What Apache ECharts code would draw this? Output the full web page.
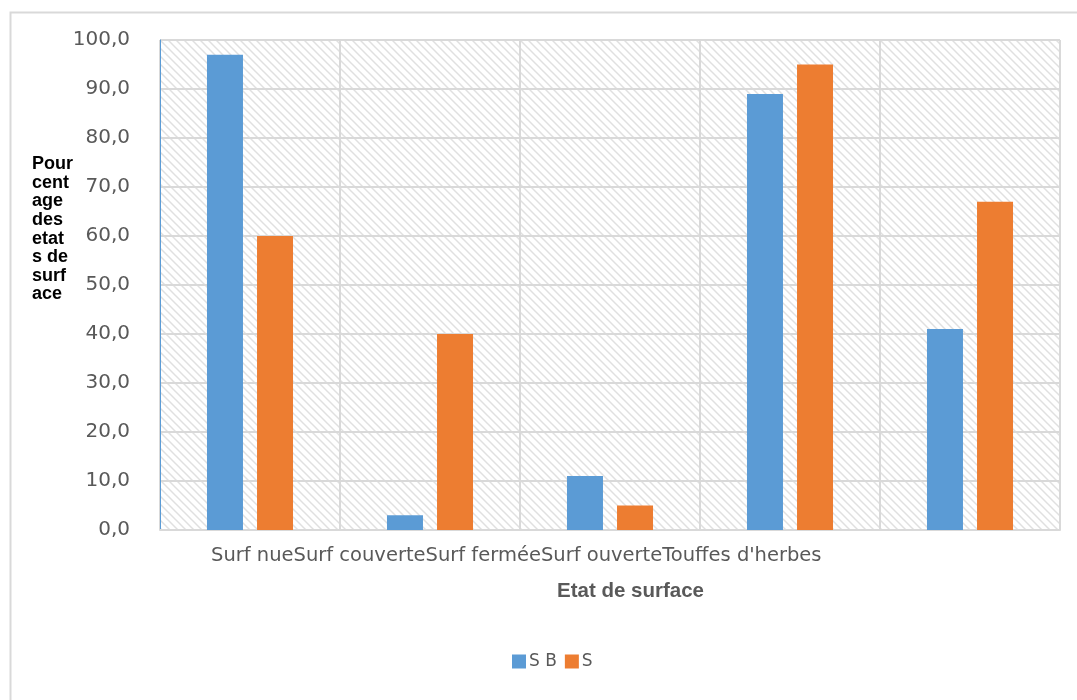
<!DOCTYPE html>
<html><head><meta charset="utf-8">
<script src="https://cdn.jsdelivr.net/npm/echarts@6/dist/echarts.min.js"></script>
<style>html,body{margin:0;padding:0;background:#fff;}#c{width:1077px;height:700px;}</style>
</head><body><div id="c"></div>
<script>
const categories = ['Surf nue', 'Surf couverte', 'Surf fermée', 'Surf ouverte', "Touffes d'herbes"];
const seriesNames = ['S B', 'S'];
const valuesSB = [97, 3, 11, 89, 41];
const valuesS = [60, 40, 5, 95, 67];
const yAxisName = 'Pour\ncent\nage\ndes\netat\ns de\nsurf\nace';
const xAxisName = 'Etat de surface';

// hatch pattern
const pc = document.createElement('canvas');
pc.width = 8; pc.height = 8;
const g = pc.getContext('2d');
g.fillStyle = '#ffffff'; g.fillRect(0,0,8,8);
g.strokeStyle = '#e0e0e0'; g.lineWidth = 1.5;
g.beginPath();
g.moveTo(-2,-2); g.lineTo(10,10);
g.moveTo(-10,-2); g.lineTo(2,10);
g.moveTo(6,-2); g.lineTo(18,10);
g.stroke();

const chart = echarts.init(document.getElementById('c'));
chart.setOption({
  animation: false,
  backgroundColor: '#fff',
  grid: { left: 160, right: 17, top: 40, bottom: 170, show: true, borderWidth: 0,
          backgroundColor: { image: pc, repeat: 'repeat' } },
  legend: {
    data: seriesNames, bottom: 25, left: 507, icon: 'rect',
    itemWidth: 14, itemHeight: 14, itemGap: 8,
    textStyle: { color: '#595959', fontSize: 17, fontFamily: 'DejaVu Sans', padding: [0, 0, 0, -2] }
  },
  xAxis: {
    type: 'category', data: categories,
    axisLine: { lineStyle: { color: '#d9d9d9', width: 2 } },
    axisTick: { show: false },
    axisLabel: { show: false },
    splitLine: { show: true, lineStyle: { color: '#d9d9d9', width: 2 } }
  },
  yAxis: {
    type: 'value', min: 0, max: 100, interval: 10,
    axisLine: { show: true, lineStyle: { color: '#5b9bd5', width: 1 } },
    axisTick: { show: false },
    axisLabel: { margin: 30, color: '#595959', fontSize: 20, fontFamily: 'DejaVu Sans',
                 formatter: v => v.toFixed(1).replace('.', ',') },
    splitLine: { lineStyle: { color: '#d9d9d9', width: 2 } }
  },
  graphic: [
    { type: 'rect', left: 8, top: 10, shape: { width: 1100, height: 720 },
      style: { fill: 'none', stroke: '#d9d9d9', lineWidth: 2 }, z: -1 },
    { type: 'text', left: 32, top: 155,
      style: { text: yAxisName, fill: '#000', font: 'bold 18px "Liberation Sans"', lineHeight: 18.6 } },
    { type: 'text', left: 211, top: 546,
      style: { text: categories.join(''), fill: '#595959', font: '19.5px "DejaVu Sans"' } },
    { type: 'text', left: 557, top: 581,
      style: { text: xAxisName, fill: '#595959', font: 'bold 20.5px "Liberation Sans"' } }
  ],
  series: [
    { name: seriesNames[0], type: 'bar', data: valuesSB, barWidth: 36, barGap: '39%',
      itemStyle: { color: '#5b9bd5' } },
    { name: seriesNames[1], type: 'bar', data: valuesS, barWidth: 36,
      itemStyle: { color: '#ed7d31' } }
  ]
});
</script></body></html>
